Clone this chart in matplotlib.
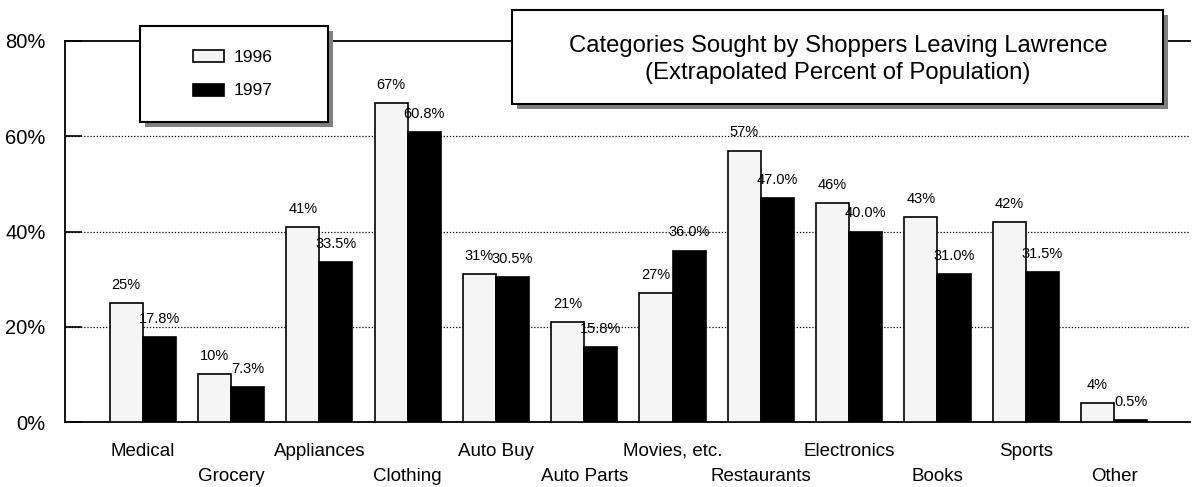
import matplotlib.pyplot as plt
import numpy as np
from matplotlib.patches import Rectangle

categories = ["Medical", "Grocery", "Appliances", "Clothing", "Auto Buy", "Auto Parts",
              "Movies, etc.", "Restaurants", "Electronics", "Books", "Sports", "Other"]
vals_1996 = [25, 10, 41, 67, 31, 21, 27, 57, 46, 43, 42, 4]
vals_1997 = [17.8, 7.3, 33.5, 60.8, 30.5, 15.8, 36.0, 47.0, 40.0, 31.0, 31.5, 0.5]
y_ticks = [0, 20, 40, 60, 80]

plt.rcParams['font.family'] = ['Liberation Sans', 'DejaVu Sans']

W, H = 1192, 487
fig = plt.figure(figsize=(W / 100, H / 100), dpi=100)
ax = fig.add_axes([65 / W, 1 - 422 / H, (1190 - 65) / W, (422 - 41) / H])

x = np.arange(len(categories))
bw = 0.375
ax.bar(x - bw / 2, vals_1996, bw, color="#f5f5f5", edgecolor="black", linewidth=1.2, zorder=3)
ax.bar(x + bw / 2, vals_1997, bw, color="black", edgecolor="black", linewidth=1.2, zorder=3)

for xi, v in zip(x, vals_1996):
    ax.annotate(f"{v:.0f}%", (xi - bw / 2, v), xytext=(0, 8), textcoords="offset points",
                ha="center", va="bottom", fontsize=10.5, zorder=4)
for xi, v in zip(x, vals_1997):
    ax.annotate(f"{v:.1f}%", (xi + bw / 2, v), xytext=(0, 8), textcoords="offset points",
                ha="center", va="bottom", fontsize=10.5, zorder=4)

ax.set_xlim(-0.88, len(categories) - 1 + 0.86)
ax.set_ylim(0, 80)
ax.set_yticks(y_ticks)
ax.set_yticklabels([f"{t}%" for t in y_ticks], fontsize=14.5)
ax.tick_params(axis="y", direction="in", length=12, width=1.2, pad=14)
ax.set_xticks(x)
ax.set_xticklabels(categories, fontsize=13.5)
ax.tick_params(axis="x", length=0)
# staggered category labels
for i, tick in enumerate(ax.xaxis.get_major_ticks()):
    tick.set_pad(15 if i % 2 == 0 else 33)

for t in y_ticks[1:-1]:
    ax.axhline(t, color="black", linestyle=(0, (1, 1.5)), linewidth=0.9, zorder=1)

ax.spines["right"].set_visible(False)
for s in ["left", "top", "bottom"]:
    ax.spines[s].set_linewidth(1.3)


def shadow_box(x0, y0, x1, y1):
    # pixel coords from top-left
    fig.add_artist(Rectangle(((x0 + 5) / W, 1 - (y1 + 5) / H), (x1 - x0) / W, (y1 - y0) / H,
                             transform=fig.transFigure, facecolor="#808080", edgecolor="none", zorder=10))
    fig.add_artist(Rectangle((x0 / W, 1 - y1 / H), (x1 - x0) / W, (y1 - y0) / H,
                             transform=fig.transFigure, facecolor="white", edgecolor="black",
                             linewidth=1.5, zorder=11))


# legend box
shadow_box(140, 26, 328, 122)
fig.add_artist(Rectangle((193 / W, 1 - 62 / H), 31 / W, 12 / H, transform=fig.transFigure,
                         facecolor="#f5f5f5", edgecolor="black", linewidth=1.2, zorder=12))
fig.add_artist(Rectangle((193 / W, 1 - 96 / H), 31 / W, 12 / H, transform=fig.transFigure,
                         facecolor="black", edgecolor="black", linewidth=1.2, zorder=12))
fig.text(234 / W, 1 - 57 / H, "1996", fontsize=12.5, va="center", zorder=12)
fig.text(234 / W, 1 - 91 / H, "1997", fontsize=12.5, va="center", zorder=12)

# title box
shadow_box(512, 10, 1163, 104)
fig.text(838 / W, 1 - 46 / H, "Categories Sought by Shoppers Leaving Lawrence",
         fontsize=17.2, ha="center", va="center", zorder=12)
fig.text(838 / W, 1 - 73 / H, "(Extrapolated Percent of Population)",
         fontsize=17.2, ha="center", va="center", zorder=12)

fig.savefig("out.png", dpi=100)
